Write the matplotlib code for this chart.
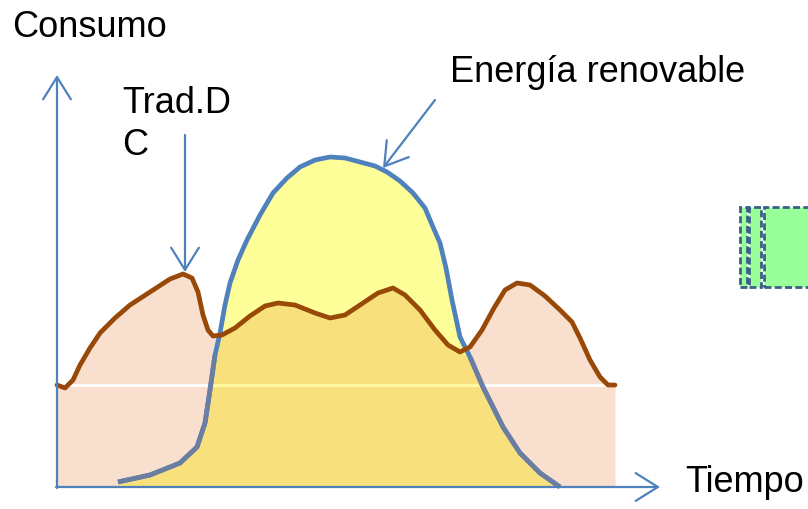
import numpy as np
import matplotlib.pyplot as plt

# consumo tradicional (curva marrón): tiempo, consumo
trad_t = [0, 8, 16, 23, 33, 43, 58, 73, 93, 113, 126, 135, 141, 146, 151, 156, 165, 178, 193,
          208, 221, 238, 258, 273, 288, 303, 321, 336, 348, 363, 378, 391, 403, 413, 425, 437,
          448, 460, 473, 488, 503, 515, 523, 533, 543, 551, 558]
trad_c = [102, 99, 107, 122, 139, 154, 169, 182, 195, 208, 213, 209, 195, 172, 157, 151, 152, 159, 171,
          181, 184, 182, 174, 169, 172, 182, 194, 199, 192, 177, 157, 142, 135, 140, 157, 179,
          197, 204, 202, 191, 177, 165, 149, 127, 110, 102, 102]

# energía renovable (curva azul)
ren_t = [61, 93, 123, 140, 148, 153, 158, 163, 168, 173, 181, 190, 203, 216, 230, 243, 258, 273,
         288, 303, 318, 330, 343, 356, 368, 376, 383, 389, 395, 403, 413, 426, 436, 446, 463, 483, 503]
ren_c = [5, 12, 24, 40, 64, 97, 132, 154, 182, 204, 227, 247, 272, 294, 309, 320, 327, 330,
         329, 325, 321, 315, 306, 294, 279, 260, 244, 219, 187, 150, 130, 100, 80, 60, 34, 14, 0]

base_level = 102

fig = plt.figure(figsize=(8.08, 5.09), dpi=100)
ax = fig.add_axes([0, 0, 1, 1])
ax.set_xlim(-57, 751)
ax.set_ylim(-22, 487)
ax.axis('off')

tt = np.array(trad_t, float)
tc = np.array(trad_c, float)
rt = np.array(ren_t, float)
rc = np.array(ren_c, float)

grid = np.union1d(tt, rt)
grid = grid[(grid >= rt[0]) & (grid <= rt[-1])]
over = np.minimum(np.interp(grid, rt, rc), np.interp(grid, tt, tc))

ax.fill_between(tt, 0, tc, color='#F9DFCE', lw=0, zorder=1)
ax.fill_between(rt, 0, rc, color='#FFFF99', lw=0, zorder=2)
ax.fill_between(grid, 0, over, color='#F8E07C', lw=0, zorder=3)

# línea base
ax.plot([tt[0], tt[-1]], [base_level, base_level], color='white', lw=2, zorder=4)
inside = np.interp(base_level, rc[:10], rt[:10]), np.interp(base_level, rc[::-1][:12], rt[::-1][:12])
ax.plot(inside, [base_level, base_level], color='#FFF799', lw=2, zorder=4)

ax.plot(tt, tc, color='#984807', lw=3.4, solid_capstyle='round', solid_joinstyle='round', zorder=6)

below = rc <= np.interp(rt, tt, tc) + 2
ax.plot(rt, rc, color='#4F81BD', lw=3.4, solid_capstyle='butt', solid_joinstyle='round', zorder=5)
ax.plot(np.where(below, rt, np.nan), np.where(below, rc, np.nan), color='#6B7EA1', lw=3.4,
        solid_capstyle='butt', solid_joinstyle='round', zorder=5)

# ejes
arrow = dict(arrowstyle='->,head_length=0.8,head_width=0.5', color='#4F81BD', lw=1.6,
             mutation_scale=20, shrinkA=0, shrinkB=0)
ax.annotate('', xy=(0, 412), xytext=(0, -1), arrowprops=arrow, zorder=7)
ax.annotate('', xy=(603, 0), xytext=(-1, 0), arrowprops=arrow, zorder=7)
ax.annotate('', xy=(128, 215), xytext=(128, 352), arrowprops=arrow, zorder=7)
ax.annotate('', xy=(326, 319), xytext=(378, 387), arrowprops=arrow, zorder=7)

font = dict(family='Liberation Sans', fontsize=26, va='baseline', color='black')
ax.text(-45, 450, 'Consumo', **font)
ax.text(65, 374, 'Trad.D', **font)
ax.text(65, 332, 'C', **font)
ax.text(628, -5, 'Tiempo', **font)
ax.text(393, 405, 'Energía renovable', **font)

# recuadros verdes del borde derecho
box_x = [683, 692, 707]
box_w = [7, 12, 60]
for bx, bw in zip(box_x, box_w):
    ax.add_patch(plt.Rectangle((bx, 200), bw, 80, facecolor='#99FF99', edgecolor='#3B5F8A',
                               lw=2, ls=(0, (2.5, 1.2)), zorder=3, clip_on=False))

fig.savefig('out.png', dpi=100)
